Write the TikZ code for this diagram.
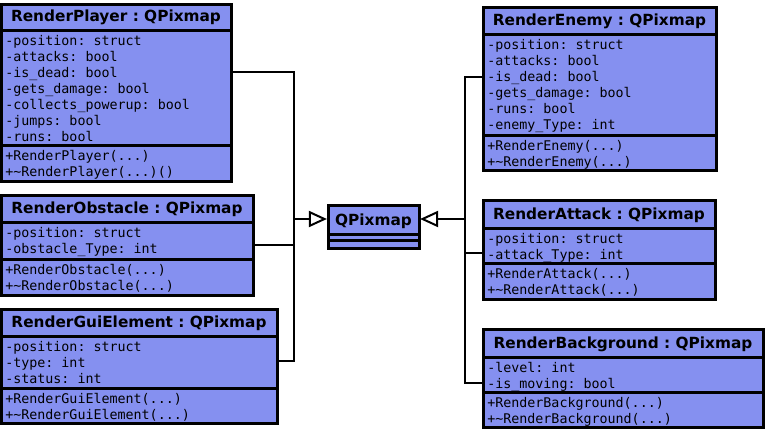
\documentclass[tikz,border=0pt]{standalone}
\usepackage{fontspec}
\setmainfont{DejaVu Sans}
\newfontfamily\monof{DejaVu Sans Mono}
\usetikzlibrary{fit,arrows.meta}
\definecolor{umlfill}{RGB}{133,144,240}
\frenchspacing
\tikzset{
  classbox/.style={draw=black, fill=umlfill, line width=2.25pt, inner sep=0pt, outer sep=0pt},
  sepline/.style={line width=2.25pt},
  classtitle/.style={anchor=base, inner sep=0pt, font=\fontsize{11.5}{13}\selectfont\bfseries},
  member/.style={anchor=base west, inner sep=0pt, font=\monof\fontsize{10}{12}\selectfont\frenchspacing},
  conn/.style={line width=1.5pt, draw=black},
  inherit/.style={conn, -{Triangle[fill=white, length=13.5pt, width=12pt, line width=1.5pt]}}
}
\newcommand{\tdots}{...}
\newcommand{\members}[4]{\foreach \s [count=\i from 0] in {#4} {\node[member] (#1-\i) at (#2,{#3+16*\i}) {\s};}}
\begin{document}
\begin{tikzpicture}[x=0.75pt,y=-0.75pt]
\useasboundingbox (0,0) rectangle (765,429);
\fill[white] (0,0) rectangle (765,429);

% RenderPlayer
\node[classbox, fit={(1,4) (231,181)}] (player) {};
\draw[sepline] (player.west |- 0,30) -- (player.east |- 0,30);
\draw[sepline] (player.west |- 0,145) -- (player.east |- 0,145);
\node[classtitle] (player-t) at (116,21.5) {RenderPlayer : QPixmap};
\members{player-a}{5}{45}{-position: struct,-attacks: bool,-is\_dead: bool,-gets\_damage: bool,-collects\_powerup: bool,-jumps: bool,-runs: bool}
\members{player-m}{5}{160}{+RenderPlayer(\tdots),+\textasciitilde RenderPlayer(\tdots)()}

% RenderObstacle
\node[classbox, fit={(1,195) (253,295)}] (obst) {};
\draw[sepline] (obst.west |- 0,222) -- (obst.east |- 0,222);
\draw[sepline] (obst.west |- 0,259) -- (obst.east |- 0,259);
\node[classtitle] (obst-t) at (127,213.5) {RenderObstacle : QPixmap};
\members{obst-a}{5}{237}{-position: struct,-obstacle\_Type: int}
\members{obst-m}{5}{274}{+RenderObstacle(\tdots),+\textasciitilde RenderObstacle(\tdots)}

% RenderGuiElement
\node[classbox, fit={(1,309) (277,423)}] (gui) {};
\draw[sepline] (gui.west |- 0,336) -- (gui.east |- 0,336);
\draw[sepline] (gui.west |- 0,388) -- (gui.east |- 0,388);
\node[classtitle] (gui-t) at (139,327.5) {RenderGuiElement : QPixmap};
\members{gui-a}{5}{351}{-position: struct,-type: int,-status: int}
\members{gui-m}{5}{403}{+RenderGuiElement(\tdots),+\textasciitilde RenderGuiElement(\tdots)}

% RenderEnemy
\node[classbox, fit={(483,7) (716,170)}] (enemy) {};
\draw[sepline] (enemy.west |- 0,34) -- (enemy.east |- 0,34);
\draw[sepline] (enemy.west |- 0,135) -- (enemy.east |- 0,135);
\node[classtitle] (enemy-t) at (599.5,25.5) {RenderEnemy : QPixmap};
\members{enemy-a}{487}{49}{-position: struct,-attacks: bool,-is\_dead: bool,-gets\_damage: bool,-runs: bool,-enemy\_Type: int}
\members{enemy-m}{487}{150}{+RenderEnemy(\tdots),+\textasciitilde RenderEnemy(\tdots)}

% RenderAttack
\node[classbox, fit={(483,200) (715,299)}] (attack) {};
\draw[sepline] (attack.west |- 0,228) -- (attack.east |- 0,228);
\draw[sepline] (attack.west |- 0,263) -- (attack.east |- 0,263);
\node[classtitle] (attack-t) at (599,219.5) {RenderAttack : QPixmap};
\members{attack-a}{487}{243}{-position: struct,-attack\_Type: int}
\members{attack-m}{487}{278}{+RenderAttack(\tdots),+\textasciitilde RenderAttack(\tdots)}

% RenderBackground
\node[classbox, fit={(483,329) (763,427)}] (bg) {};
\draw[sepline] (bg.west |- 0,357) -- (bg.east |- 0,357);
\draw[sepline] (bg.west |- 0,392) -- (bg.east |- 0,392);
\node[classtitle] (bg-t) at (623,348.5) {RenderBackground : QPixmap};
\members{bg-a}{487}{372}{-level: int,-is\_moving: bool}
\members{bg-m}{487}{407}{+RenderBackground(\tdots),+\textasciitilde RenderBackground(\tdots)}

% QPixmap
\node[classbox, fit={(328,205.5) (419,248)}] (qp) {};
\draw[sepline] (qp.west |- 0,234) -- (qp.east |- 0,234);
\draw[sepline] (qp.west |- 0,240.5) -- (qp.east |- 0,240.5);
\node[classtitle] (qp-t) at (373.5,225) {QPixmap};

% connectors
\coordinate (jl) at (294,219);
\coordinate (jr) at (465,219);
\draw[conn] (player.east |- 0,71.5) -| (jl |- 0,361) -- (gui.east |- 0,361);
\draw[conn] (obst.east |- 0,245) -- (jl |- 0,245);
\draw[inherit] (jl) -- ([xshift=-0.8pt]qp.west |- jl);
\draw[conn] (enemy.west |- 0,77) -| (jr |- 0,383) -- (bg.west |- 0,383);
\draw[conn] (attack.west |- 0,253) -- (jr |- 0,253);
\draw[inherit] (jr) -- ([xshift=0.8pt]qp.east |- jr);
\end{tikzpicture}
\end{document}
